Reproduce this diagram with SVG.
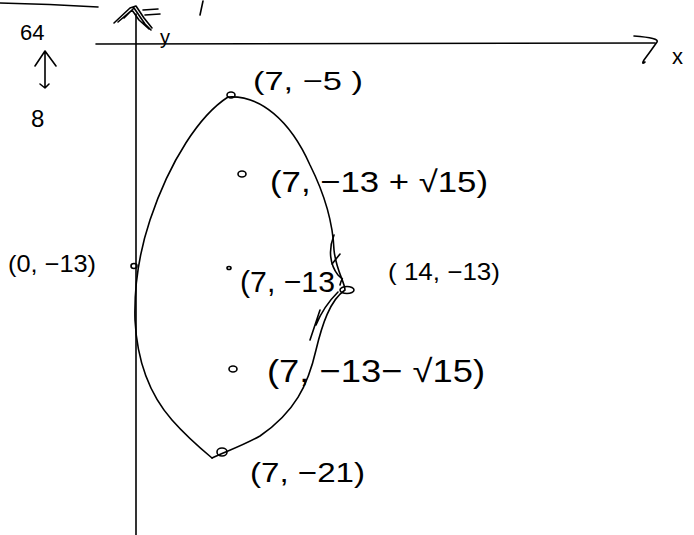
<svg xmlns="http://www.w3.org/2000/svg" width="694" height="535" viewBox="0 0 694 535">
<style>
.s{fill:none;stroke:#000;stroke-width:1.6;stroke-linecap:round;stroke-linejoin:round}
.t{font-family:"Liberation Sans","DejaVu Sans",sans-serif;font-weight:normal;fill:#000}
</style>
<rect width="694" height="535" fill="#fff"/>
<g id="axes">
<path class="s" d="M0,3 Q50,4 98,7"/>
<path class="s" d="M136,14 L136,535"/>
<path class="s" d="M96,44 L655,43"/>
<path class="s" d="M634,36 Q660,38 657,42 Q650,52 644,60 Q641,65 645,62"/>
<path class="s" d="M114,23 L130,8 L136,6 L144,18 L152,28 M118,22 L132,10 L139,20 L149,29 M124,18 L134,8 L145,24 L151,30"/>
<path class="s" d="M143,10 L158,9 M145,15 L160,14"/>
<path class="s" d="M203,1 L200,15"/>
<path class="s" d="M45,51 L45,88 M35,66 L45,51 L56,66 M40,84 L45,88 L49,84"/>
</g>
<g id="curve">
<path class="s" d="M228,97 C260,95 290,120 310,165 C325,195 333,225 334,250 C336,270 345,283 345,290 C330,300 322,325 316,350 C308,385 295,412 260,436 C240,447 224,452 212,458"/>
<path class="s" d="M228,97 C200,115 170,160 150,220 C140,250 134,285 135,320 C137,360 150,395 172,420 C187,437 200,448 212,458"/>
<path class="s" d="M334,235 C328,250 330,265 338,275 C345,282 342,275 340,285 M338,292 C330,300 322,310 316,325 M320,310 L310,340"/>
<path class="s" d="M332,264 L340,254"/>
</g>
<g id="points">
<ellipse class="s" cx="231" cy="95" rx="4" ry="3"/>
<ellipse class="s" cx="242" cy="174" rx="4" ry="3"/>
<ellipse class="s" cx="134" cy="266" rx="3" ry="2.5"/>
<ellipse class="s" cx="229" cy="268" rx="2" ry="1.5"/>
<ellipse class="s" cx="347" cy="290" rx="7" ry="3.5"/>
<ellipse class="s" cx="233" cy="369" rx="4" ry="3"/>
<ellipse class="s" cx="222" cy="452" rx="5" ry="4"/>
</g>
<g id="labels">
<text class="t" x="20" y="40" font-size="22">64</text>
<text class="t" x="31" y="127" font-size="24">8</text>
<text class="t" x="160" y="44" font-size="20">y</text>
<text class="t" x="672" y="64" font-size="22">x</text>
<text class="t" x="253" y="90" font-size="26" textLength="110" lengthAdjust="spacingAndGlyphs">(7, −5  )</text>
<text class="t" x="270" y="192" font-size="30" textLength="218" lengthAdjust="spacingAndGlyphs">(7, −13 + √15)</text>
<text class="t" x="8" y="272" font-size="24" textLength="88" lengthAdjust="spacingAndGlyphs">(0, −13)</text>
<text class="t" x="240" y="292" font-size="30" textLength="95" lengthAdjust="spacingAndGlyphs">(7, −13</text>
<text class="t" x="388" y="280" font-size="24" textLength="112" lengthAdjust="spacingAndGlyphs">( 14, −13)</text>
<text class="t" x="267" y="382" font-size="32" textLength="218" lengthAdjust="spacingAndGlyphs">(7, −13− √15)</text>
<text class="t" x="250" y="482" font-size="28" textLength="115" lengthAdjust="spacingAndGlyphs">(7, −21)</text>
</g>
</svg>
